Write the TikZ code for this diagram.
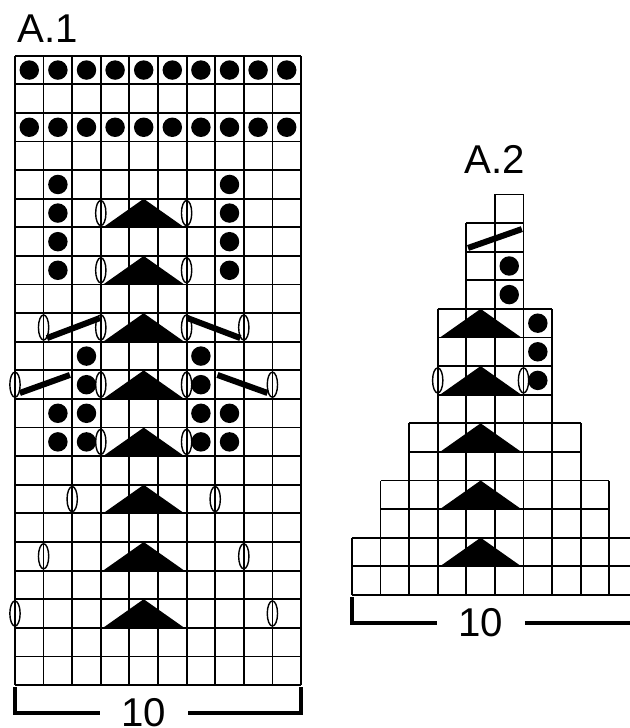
\documentclass[tikz,border=0pt]{standalone}
\usepackage{fontspec}
\setmainfont{Liberation Sans}

\begin{document}
\begin{tikzpicture}[
  x=0.5cm, y=0.5cm,
  chartline/.style={line width=0.9pt},
  purl/.style={fill=black},
  yarnover/.style={line width=0.7pt},
  decrease/.style={fill=black},
  cable/.style={line width=3pt},
  bracket/.style={line width=1.8pt},
  charttext/.style={font=\fontsize{20}{24}\selectfont, inner sep=0pt}
]
  \clip (-0.524,-1.503) rectangle (21.50,23.95);

  % A.1
  \draw[chartline, step=1] (0,0) grid (10,22);
  \foreach \r in {3,5,...,17}
    \fill[decrease] (3.08,\r-1) -- (4.5,\r) -- (5.92,\r-1) -- cycle;
  \draw[cable] (1.12,12.13) -- (2.97,12.83) (6.03,12.83) -- (7.88,12.13);
  \draw[cable] (0.17,10.21) -- (1.92,10.84) (7.08,10.84) -- (8.83,10.21);
  \foreach \x/\r in {3/17,6/17,3/15,6/15,1/13,3/13,6/13,8/13,0/11,3/11,6/11,9/11,
                     3/9,6/9,2/7,7/7,1/5,8/5,0/3,9/3}
    \draw[yarnover] (\x,\r-0.5) ellipse [x radius=0.18, y radius=0.44];
  \foreach \r in {20,22}
    \foreach \c in {1,...,10}
      \fill[purl] (\c-0.5,\r-0.5) circle [radius=0.34];
  \foreach \c/\r in {2/18,8/18,2/17,8/17,2/16,8/16,2/15,8/15,3/12,7/12,3/11,7/11,
                     2/10,3/10,7/10,8/10,2/9,3/9,7/9,8/9}
    \fill[purl] (\c-0.5,\r-0.5) circle [radius=0.34];
  \node[charttext, anchor=base west] (titleA) at (0.07,22.45) {A.1};
  \node[charttext] (widthA) at (4.5,-0.98) {10};
  \draw[bracket] (2.97,-0.98) -| (0,-0.07);
  \draw[bracket] (6.05,-0.98) -| (10,-0.07);

  % A.2
  \begin{scope}[shift={(11.78,3.15)}]
    \draw[chartline, step=1] (0,0) grid (10,2) (1,2) grid (9,4) (2,4) grid (8,6)
      (3,6) grid (7,10) (4,10) grid (6,13) (5,13) grid (6,14);
    \foreach \r in {2,4,...,10}
      \fill[decrease] (3.08,\r-1) -- (4.5,\r) -- (5.92,\r-1) -- cycle;
    \draw[cable] (4.06,12.13) -- (5.94,12.79);
    \foreach \x in {3,6}
      \draw[yarnover] (\x,7.5) ellipse [x radius=0.18, y radius=0.44];
    \foreach \c/\r in {7/8,7/9,7/10,6/11,6/12}
      \fill[purl] (\c-0.5,\r-0.5) circle [radius=0.34];
    \node[charttext, anchor=base] (titleB) at (5,14.75) {A.2};
    \node[charttext] (widthB) at (4.5,-0.98) {10};
    \draw[bracket] (2.97,-0.98) -| (0,-0.07);
    \draw[bracket] (6.05,-0.98) -| (10,-0.07);
  \end{scope}
\end{tikzpicture}
\end{document}
